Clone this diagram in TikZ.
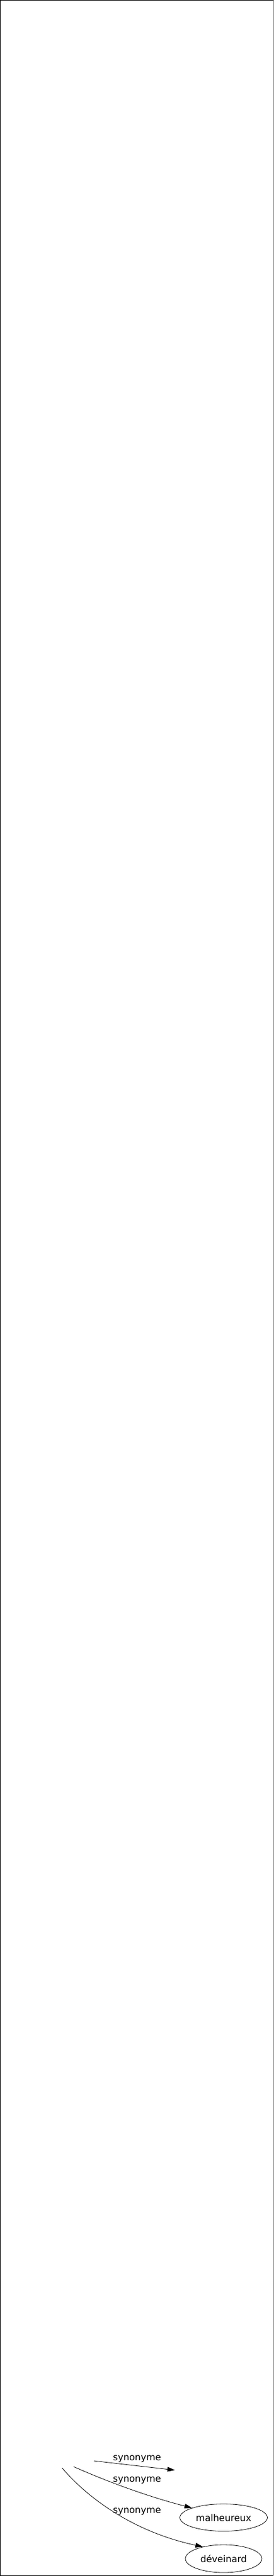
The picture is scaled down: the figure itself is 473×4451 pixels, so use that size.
\documentclass[tikz,border=0pt]{standalone}
\usepackage{fontspec}
\setmainfont{DejaVu Sans}
\usetikzlibrary{arrows.meta}
\usetikzlibrary{shapes.geometric}

\begin{document}
\begin{tikzpicture}[x=1pt,y=-1pt,
  word/.style={draw=black, line width=0.8pt, ellipse, inner sep=0pt, font=\fontsize{16}{19}\selectfont},
  lbl/.style={anchor=base west, inner sep=0pt, font=\fontsize{16}{19}\selectfont},
  syn/.style={draw=black, line width=0.8pt, -{Triangle[length=13pt,width=8pt]}}]
\useasboundingbox (0,0) rectangle (473,4451);
\fill[white] (0,0) rectangle (473,4451);
\draw[black, line width=1pt] (472,4450) -- (0.5,4450) -- (0.5,0.5) -- (472,0.5);
\draw[gray, line width=1pt] (472,0.5) -- (472,4450);
\node[word, minimum width=151pt, minimum height=47pt] (malheureux) at (386,4350) {malheureux};
\node[word, minimum width=132pt, minimum height=48pt] (deveinard) at (386,4421) {déveinard};
\coordinate (s1) at (162,4252);
\coordinate (s2) at (127,4262);
\coordinate (s3) at (107,4264);
\coordinate (e1) at (302,4268);
\draw[syn] (s1) -- (e1);
\draw[syn] (s2) .. controls (190,4290) and (260,4315) .. (malheureux.163);
\draw[syn] (s3) .. controls (150,4315) and (230,4375) .. (deveinard.150);
\node[lbl] (l1) at (195,4251) {synonyme};
\node[lbl] (l2) at (195,4288) {synonyme};
\node[lbl] (l3) at (195,4342) {synonyme};
\end{tikzpicture}
\end{document}
